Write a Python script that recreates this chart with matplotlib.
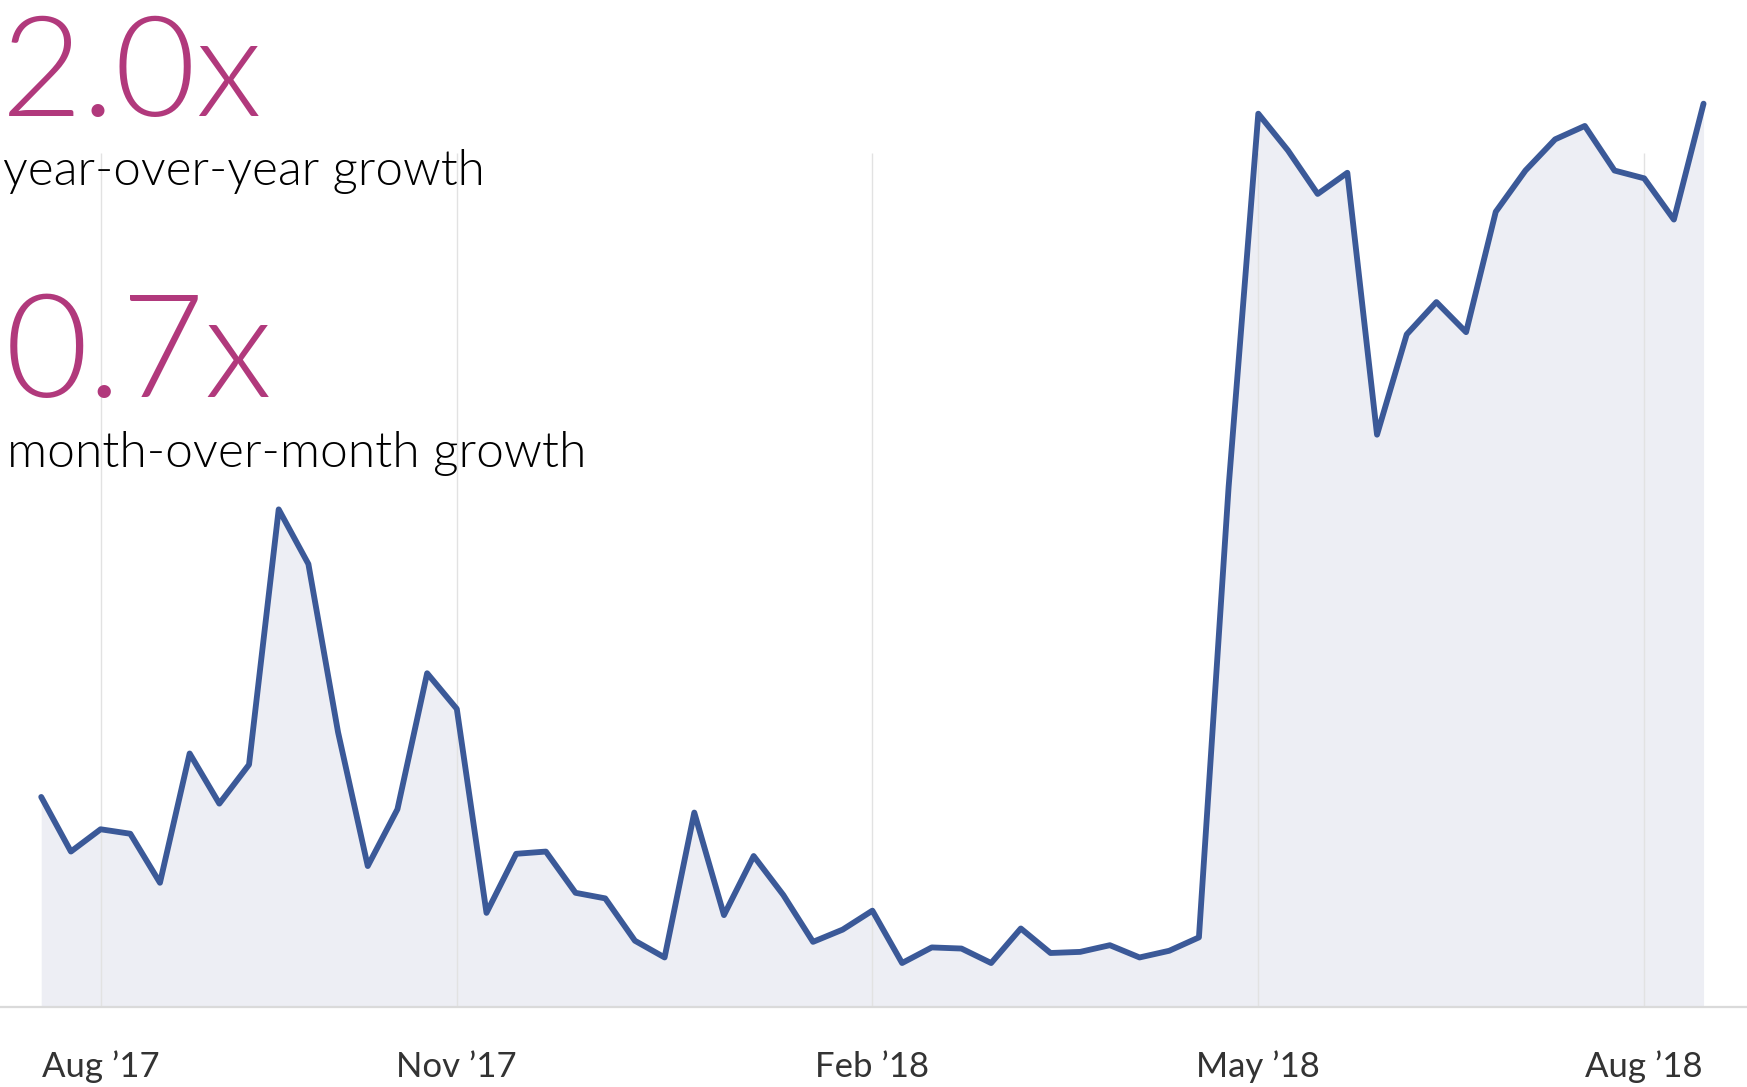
import matplotlib
matplotlib.use("Agg")
import matplotlib.pyplot as plt
import numpy as np

W, H = 1747, 1087
DPI = 100

# weekly values (arbitrary units)
weekly_values = [188, 139, 159, 155, 111, 227, 182, 217, 446, 397,
                 246, 126, 177, 299, 267, 84, 137, 139, 102, 97,
                 59, 44, 174, 82, 135, 100, 58, 69, 86, 39,
                 53, 52, 39, 70, 48, 49, 55, 44, 50, 62,
                 466, 801, 768, 729, 748, 513, 603, 632, 605, 713,
                 750, 778, 790, 750, 743, 706, 810]
tick_weeks = [2, 14, 28, 41, 54]
tick_labels = ["Aug \u201917", "Nov \u201917", "Feb \u201918", "May \u201918", "Aug \u201918"]

yoy_text = "2.0x"
yoy_label = "year-over-year growth"
mom_text = "0.7x"
mom_label = "month-over-month growth"

LINE = "#3b5998"
FILL = "#edeef4"
MAGENTA = "#b1397c"

plt.rcParams["font.family"] = ["Lato", "DejaVu Sans"]

fig = plt.figure(figsize=(W / DPI, H / DPI), dpi=DPI)
ax = fig.add_axes([0, 1 - 1006.5 / H, 1, 1006.5 / H])

x = np.arange(len(weekly_values))
ax.fill_between(x, 0, weekly_values, color=FILL, lw=0, zorder=1)
ax.vlines(tick_weeks, 0, 766, color="#e2e2e2", lw=1.0, zorder=2)
ax.plot(x, weekly_values, color=LINE, lw=4.2, solid_joinstyle="round",
        solid_capstyle="round", zorder=3)
ax.axhline(0, color="#dadada", lw=1.6, zorder=4, clip_on=False)

ax.set_xlim(-37 / 26.643, (1568 - 37) / 26.643)
ax.set_ylim(0, 903)
ax.set_xticks(tick_weeks)
ax.set_xticklabels(tick_labels)
ax.tick_params(axis="x", length=0, labelsize=25, colors="#333333")
ax.set_yticks([])
for s in ax.spines.values():
    s.set_visible(False)

# tick labels sit with their baseline near the bottom edge
for lab in ax.get_xticklabels():
    lab.set_va("baseline")
ax.tick_params(axis="x", pad=70.5 * 72 / DPI)

renderer = fig.canvas.get_renderer()


def put(txt, left, baseline, width, size, color):
    t = fig.text(left / W, 1 - baseline / H, txt, fontsize=size, color=color,
                 fontweight=300, ha="left", va="baseline")
    w = t.get_window_extent(renderer).width
    t.set_fontsize(size * width / w)
    return t


put(yoy_text, 1, 116, 262, 110, MAGENTA)
put(yoy_label, 3, 185, 481, 40, "black")
put(mom_text, 5, 397, 268, 110, MAGENTA)
put(mom_label, 7, 467, 578, 40, "black")

fig.savefig("out.png", dpi=DPI)
